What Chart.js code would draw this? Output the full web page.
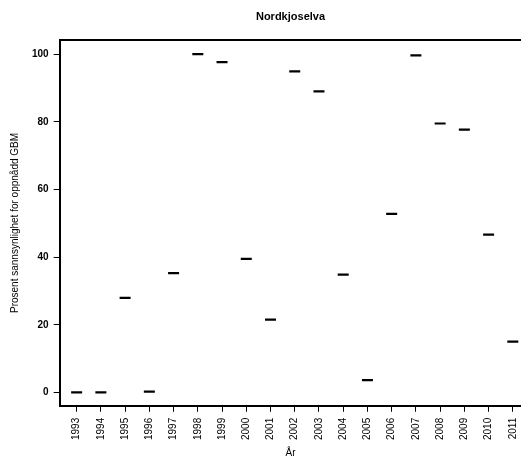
<!DOCTYPE html>
<html>
<head>
<meta charset="utf-8">
<script src="https://cdn.jsdelivr.net/npm/chart.js@4/dist/chart.umd.min.js"></script>
<style>
  html, body { margin: 0; padding: 0; background: #fff; overflow: hidden; }
  #wrap { width: 521px; height: 459px; overflow: hidden; }
</style>
</head>
<body>
<div id="wrap"><canvas id="nordkjoselva" width="531" height="459"></canvas></div>
<script>
// Data
const years = [1993, 1994, 1995, 1996, 1997, 1998, 1999, 2000, 2001, 2002,
               2003, 2004, 2005, 2006, 2007, 2008, 2009, 2010, 2011];
const prosent = [0.1, 0.1, 28.0, 0.3, 35.3, 100, 97.6, 39.5, 21.6, 94.9,
                 89.0, 34.9, 3.7, 52.8, 99.6, 79.5, 77.7, 46.7, 15.1];
const yTicks = [0, 20, 40, 60, 80, 100];

const FONT = 'Liberation Sans, Arial, Helvetica, sans-serif';

// Punktene som små horisontale streker
const points = years.map((yr, i) => ({ x: yr, y: prosent[i] }));

document.addEventListener('DOMContentLoaded', function () {
  const ctx = document.getElementById('nordkjoselva');
  new Chart(ctx, {
    type: 'scatter',
    data: {
      datasets: [{
        label: 'Nordkjoselva',
        data: points,
        pointStyle: 'line',
        pointRadius: 5.5,
        pointBorderWidth: 2.2,
        borderColor: '#000',
        backgroundColor: '#000',
        showLine: false,
      }]
    },
    options: {
      responsive: false,
      animation: false,
      layout: { padding: { top: 2, right: 0, left: 9, bottom: 0 } },
      plugins: {
        legend: { display: false },
        tooltip: { enabled: false },
        title: {
          display: true,
          text: 'Nordkjoselva',
          fullSize: false,
          color: '#000',
          font: { family: FONT, size: 11, weight: 'bold' },
          padding: { top: 8, bottom: 17 },
        },
      },
      scales: {
        x: {
          type: 'linear',
          min: 1992.3,
          max: 2011.35,
          afterBuildTicks: (scale) => { scale.ticks = years.map(v => ({ value: v })); },
          ticks: {
            color: '#000',
            font: { family: FONT, size: 10 },
            maxRotation: 90,
            minRotation: 90,
            padding: 6,
            callback: (v) => String(v),
          },
          grid: { drawOnChartArea: false, drawTicks: true, tickLength: 6, tickColor: '#000' },
          border: { display: true, color: '#000', width: 2 },
          title: {
            display: true,
            text: 'År',
            color: '#000',
            font: { family: FONT, size: 10 },
            padding: { top: 1, bottom: 0 },
          },
        },
        xTop: {
          type: 'linear',
          position: 'top',
          min: 1992.3,
          max: 2011.35,
          ticks: { display: false },
          grid: { display: false, drawTicks: false },
          border: { display: true, color: '#000', width: 2 },
        },
        y: {
          min: -3.85,
          max: 104.1,
          afterBuildTicks: (scale) => { scale.ticks = yTicks.map(v => ({ value: v })); },
          ticks: {
            color: '#000',
            font: { family: FONT, size: 10, weight: 'bold' },
            padding: 5,
          },
          grid: { drawOnChartArea: false, drawTicks: true, tickLength: 6, tickColor: '#000' },
          border: { display: true, color: '#000', width: 2 },
          title: {
            display: true,
            text: 'Prosent sannsynlighet for oppnådd GBM',
            color: '#000',
            font: { family: FONT, size: 10 },
            padding: { top: 0, bottom: 6 },
          },
        },
      },
    }
  });
});
</script>
</body>
</html>
